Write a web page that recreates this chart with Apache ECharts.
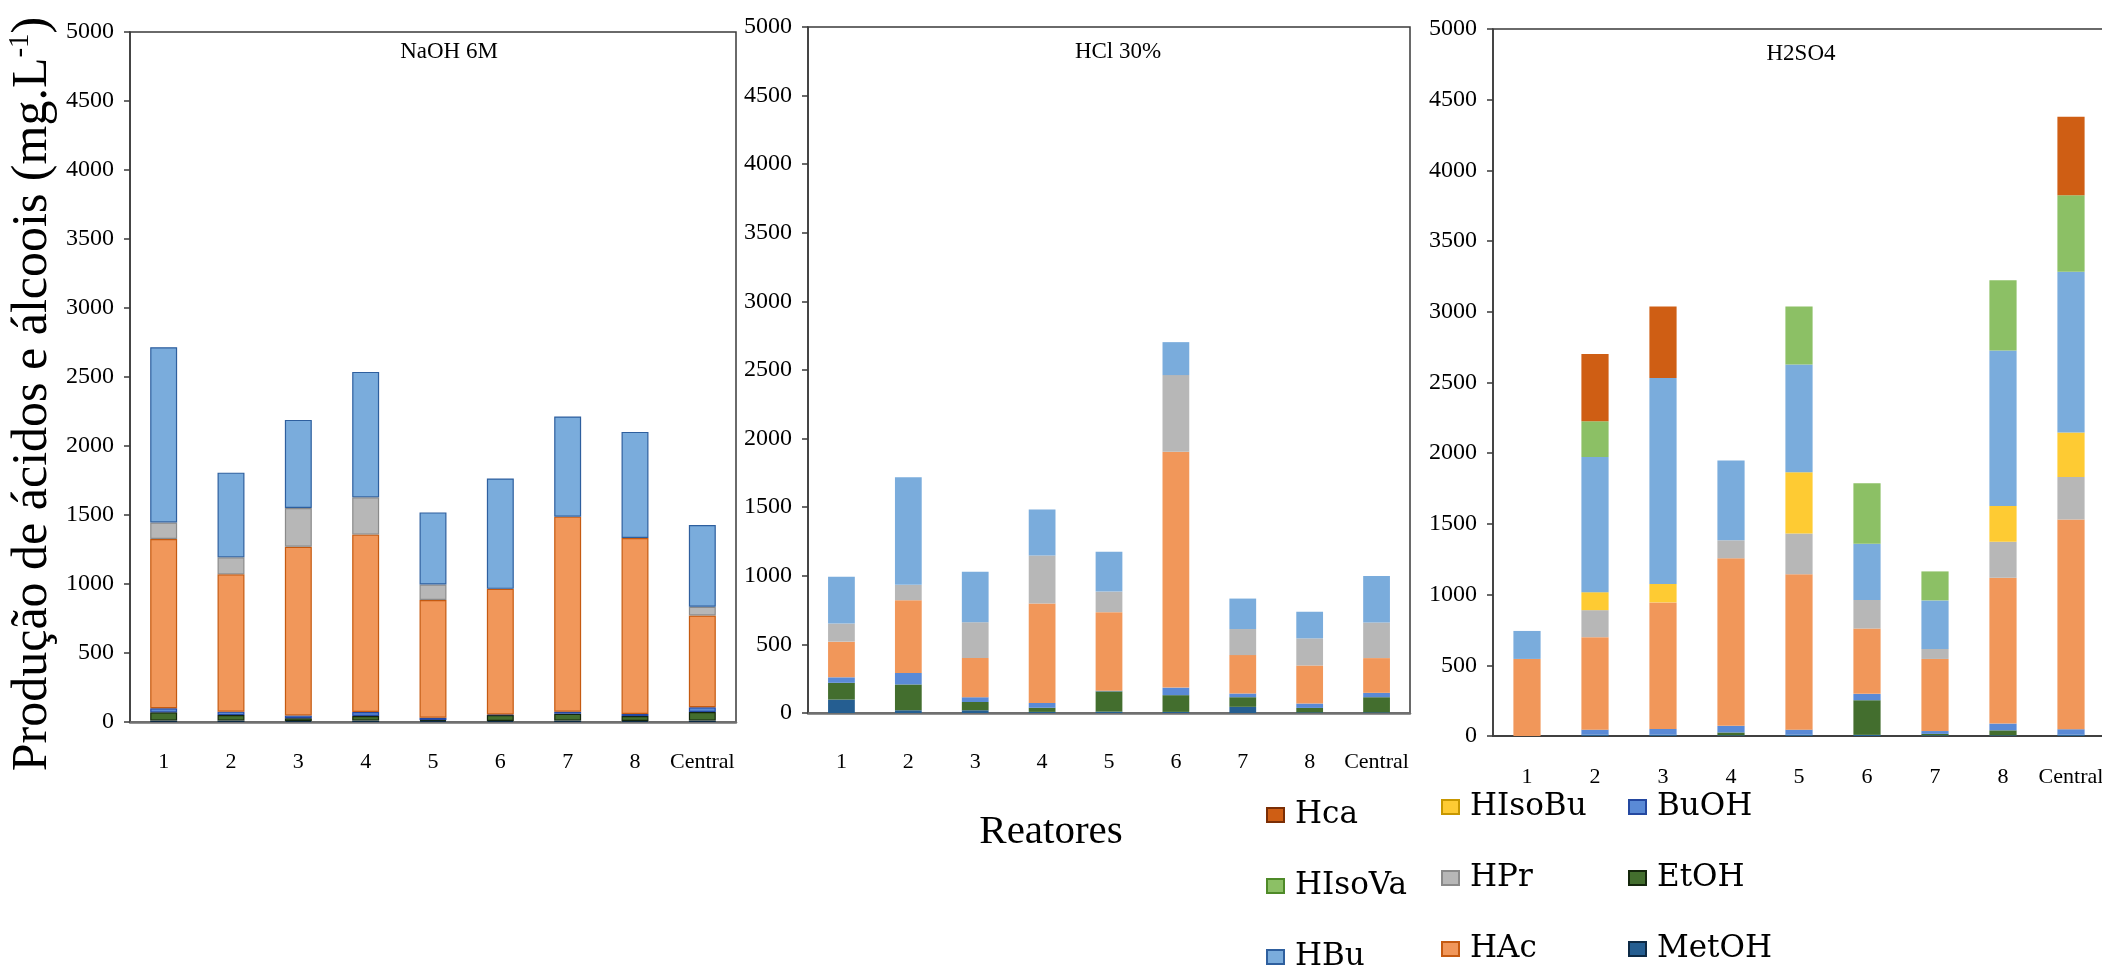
<!DOCTYPE html>
<html>
<head>
<meta charset="utf-8">
<script src="https://cdn.jsdelivr.net/npm/echarts@6/dist/echarts.min.js"></script>
<style>
  html, body { margin: 0; padding: 0; background: #ffffff; }
  #chart { width: 2102px; height: 966px; }
</style>
</head>
<body>
<div id="chart"></div>
<script>
// Reactor categories and panel (pre-treatment) titles
const reactors = ['1', '2', '3', '4', '5', '6', '7', '8', 'Central'];
const panelTitles = ['NaOH 6M', 'HCl 30%', 'H2SO4'];
const yMin = 0, yMax = 5000, yStep = 500;

// Stack order, bottom to top
const compounds = ['MetOH', 'EtOH', 'BuOH', 'HAc', 'HPr', 'HIsoBu', 'HBu', 'HIsoVa', 'Hca'];

// NaOH 6M (mg.L-1)
const naohMetOH  = [10, 10, 8, 10, 8, 8, 10, 8, 10];
const naohEtOH   = [60, 40, 20, 33, 6, 42, 50, 35, 62];
const naohBuOH   = [30, 25, 20, 29, 17, 5, 15, 15, 35];
const naohHAc    = [1226, 995, 1222, 1286, 853, 910, 1413, 1275, 665];
const naohHPr    = [120, 123, 281, 270, 112, 0, 0, 0, 63];
const naohHIsoBu = [0, 0, 0, 0, 0, 0, 0, 0, 0];
const naohHBu    = [1270, 614, 638, 909, 523, 800, 726, 769, 593];
const naohHIsoVa = [0, 0, 0, 0, 0, 0, 0, 0, 0];
const naohHca    = [0, 0, 0, 0, 0, 0, 0, 0, 0];

// HCl 30% (mg.L-1)
const hclMetOH  = [98, 20, 20, 8, 10, 8, 45, 5, 5];
const hclEtOH   = [122, 188, 60, 30, 148, 122, 70, 32, 110];
const hclBuOH   = [40, 84, 35, 35, 5, 55, 27, 32, 32];
const hclHAc    = [260, 530, 285, 725, 572, 1720, 280, 277, 253];
const hclHPr    = [132, 112, 262, 350, 150, 558, 190, 198, 259];
const hclHIsoBu = [0, 0, 0, 0, 0, 0, 0, 0, 0];
const hclHBu    = [341, 785, 368, 335, 290, 240, 222, 194, 339];
const hclHIsoVa = [0, 0, 0, 0, 0, 0, 0, 0, 0];
const hclHca    = [0, 0, 0, 0, 0, 0, 0, 0, 0];

// H2SO4 (mg.L-1)
const h2so4MetOH  = [0, 10, 10, 5, 10, 8, 5, 5, 10];
const h2so4EtOH   = [0, 0, 0, 20, 0, 245, 10, 35, 0];
const h2so4BuOH   = [0, 35, 40, 47, 35, 45, 20, 48, 38];
const h2so4HAc    = [545, 654, 895, 1185, 1099, 462, 510, 1032, 1483];
const h2so4HPr    = [0, 191, 0, 127, 288, 202, 71, 253, 301];
const h2so4HIsoBu = [0, 127, 130, 0, 434, 0, 0, 254, 315];
const h2so4HBu    = [198, 956, 1456, 565, 761, 398, 343, 1099, 1137];
const h2so4HIsoVa = [0, 253, 0, 0, 411, 428, 205, 497, 541];
const h2so4Hca    = [0, 476, 507, 0, 0, 0, 0, 0, 555];

const panelData = [
  { MetOH: naohMetOH, EtOH: naohEtOH, BuOH: naohBuOH, HAc: naohHAc, HPr: naohHPr,
    HIsoBu: naohHIsoBu, HBu: naohHBu, HIsoVa: naohHIsoVa, Hca: naohHca },
  { MetOH: hclMetOH, EtOH: hclEtOH, BuOH: hclBuOH, HAc: hclHAc, HPr: hclHPr,
    HIsoBu: hclHIsoBu, HBu: hclHBu, HIsoVa: hclHIsoVa, Hca: hclHca },
  { MetOH: h2so4MetOH, EtOH: h2so4EtOH, BuOH: h2so4BuOH, HAc: h2so4HAc, HPr: h2so4HPr,
    HIsoBu: h2so4HIsoBu, HBu: h2so4HBu, HIsoVa: h2so4HIsoVa, Hca: h2so4Hca }
];

// Fill and edge colours per compound
const fill = {
  MetOH: '#255e91', EtOH: '#436e2e', BuOH: '#5a8ad6', HAc: '#f1975a', HPr: '#b7b7b7',
  HIsoBu: '#fecb33', HBu: '#7aacdc', HIsoVa: '#8cc065', Hca: '#cf5e14'
};
const edge = {
  MetOH: '#0d2a45', EtOH: '#14260c', BuOH: '#2448a0', HAc: '#c55a11', HPr: '#8a8a8a',
  HIsoBu: '#c79700', HBu: '#2e5f9e', HIsoVa: '#4e8a28', Hca: '#7a2e05'
};

const serif = 'Liberation Serif';
const boxColor = '#3a3a3a';

// Plot areas of the three panels
const grids = [
  { left: 130, top: 32, width: 606, height: 690 },
  { left: 808, top: 27, width: 602, height: 686 },
  { left: 1493, top: 29, width: 612, height: 707 }
];
const labelMargins = [29, 38, 30];
const titlePos = [[449, 52], [1118, 52], [1801, 54]];

const grid = grids.map(g => Object.assign({
  show: true, borderColor: boxColor, borderWidth: 1.5, backgroundColor: 'transparent',
  containLabel: false, outerBoundsMode: 'none'
}, g));

const xAxis = grids.map((g, i) => ({
  type: 'category', gridIndex: i, data: reactors,
  axisLine: { show: true, lineStyle: { color: i === 2 ? '#404040' : '#707070', width: i === 2 ? 2 : 2.5 } },
  axisTick: { show: false },
  axisLabel: { interval: 0, margin: labelMargins[i], color: '#000', fontFamily: serif, fontSize: 22, lineHeight: 22 }
}));

const yAxis = grids.map((g, i) => ({
  type: 'value', gridIndex: i, min: yMin, max: yMax, interval: yStep,
  axisLine: { show: true, lineStyle: { color: boxColor, width: 1.5 } },
  axisTick: { show: true, inside: false, length: 6, lineStyle: { color: boxColor, width: 1.5 } },
  splitLine: { show: false },
  axisLabel: { margin: 16, color: '#000', fontFamily: serif, fontSize: 24, formatter: v => String(v) }
}));

const series = [];
panelData.forEach((pd, p) => {
  compounds.forEach(c => {
    series.push({
      type: 'bar', name: c, xAxisIndex: p, yAxisIndex: p, stack: 'panel' + p,
      barWidth: '40%',
      data: pd[c].map(v => (v > 0 ? v : '-')),
      itemStyle: p === 0
        ? { color: fill[c], borderColor: edge[c], borderWidth: 1.2 }
        : { color: fill[c], borderWidth: 0 },
      emphasis: { disabled: true },
      animation: false
    });
  });
});

const legendBase = {
  orient: 'vertical', icon: 'rect', itemWidth: 17, itemHeight: 14, itemGap: 39,
  selectedMode: false, padding: 0, height: 300,
  textStyle: { fontFamily: 'DejaVu Serif', fontSize: 31, lineHeight: 32, color: '#000', padding: [0, 0, 0, 6] }
};
const legend = [
  Object.assign({ data: ['Hca', 'HIsoVa', 'HBu'], left: 1266, top: 799 }, legendBase),
  Object.assign({ data: ['HIsoBu', 'HPr', 'HAc'], left: 1441, top: 791 }, legendBase),
  Object.assign({ data: ['BuOH', 'EtOH', 'MetOH'], left: 1628, top: 791 }, legendBase)
];

const graphic = [
  {
    type: 'text', x: 33, y: 394, rotation: Math.PI / 2,
    style: {
      text: '{a|Produção de ácidos e álcoois (mg.L}{s|-1}{a|)}',
      align: 'center', verticalAlign: 'middle',
      rich: {
        a: { fontFamily: serif, fontSize: 50, lineHeight: 54, fill: '#000' },
        s: { fontFamily: serif, fontSize: 29, lineHeight: 32, verticalAlign: 'top', fill: '#000' }
      }
    }
  },
  {
    type: 'text', x: 1051, y: 832,
    style: { text: 'Reatores', align: 'center', verticalAlign: 'middle', fontFamily: serif, fontSize: 41, fill: '#000' }
  }
].concat(panelTitles.map((t, i) => ({
  type: 'text', x: titlePos[i][0], y: titlePos[i][1],
  style: { text: t, align: 'center', verticalAlign: 'middle', fontFamily: serif, fontSize: 23, fill: '#000' }
})));

const chart = echarts.init(document.getElementById('chart'), null, { renderer: 'canvas' });
chart.setOption({
  backgroundColor: '#ffffff',
  animation: false,
  grid, xAxis, yAxis, series, legend, graphic
});
</script>
</body>
</html>
